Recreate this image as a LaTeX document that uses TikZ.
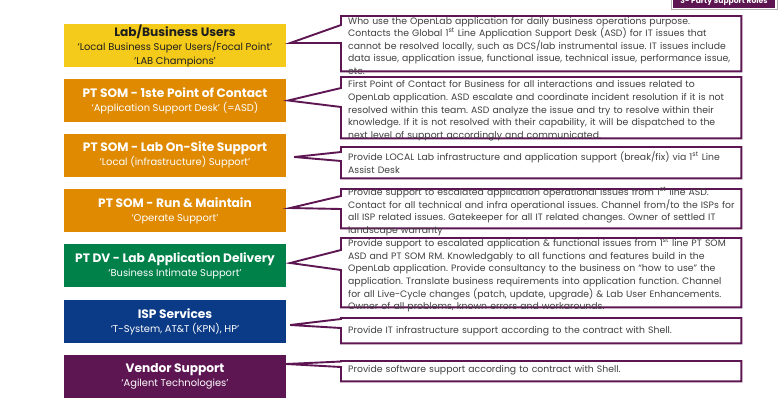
\documentclass[tikz,border=0pt]{standalone}
\usepackage{fontspec}
\setmainfont{Poppins}
\usetikzlibrary{calc}
\definecolor{labyellow}{HTML}{F5CB1B}
\definecolor{somorange}{HTML}{DF8A00}
\definecolor{dvgreen}{HTML}{00814A}
\definecolor{ispblue}{HTML}{0B3A86}
\definecolor{rolepurple}{HTML}{5E1653}
\definecolor{notegray}{HTML}{404040}
\definecolor{titledark}{HTML}{1E1E1E}
\newcommand\roletitle[1]{{\fontsize{12.2}{14}\bfseries\selectfont #1}}
\begin{document}
\frenchspacing
\begin{tikzpicture}[x=1pt,y=-1pt,
  role/.style={minimum width=222pt,minimum height=43pt,inner sep=0pt,align=center,
    text=white,font=\fontsize{9.9}{14}\selectfont},
  frame/.style={minimum width=400pt,inner sep=0pt,anchor=north west},
  note/.style={text width=396pt,align=left,inner sep=0pt,anchor=west,text=notegray,
    font=\fontsize{9.3}{12.6}\selectfont},
  callout/.style={draw=rolepurple,line width=1.9pt,fill=white,line join=miter},
  tab/.style={fill=rolepurple,text=white,minimum width=102pt,minimum height=12pt,
    inner sep=0pt,font=\fontsize{7.6}{9}\bfseries\selectfont}]
  \path[use as bounding box,clip] (0,0) rectangle (780,405);
  % roles on the left
  \node[role,fill=labyellow,text=titledark] (users) at (175,45.5)
    {\roletitle{Lab/Business Users}\\‘Local Business Super Users/Focal Point’\\‘LAB Champions’};
  \node[role,fill=somorange] (asd) at (175,100.5)
    {\roletitle{PT SOM - 1ste Point of Contact}\\‘Application Support Desk’ (=ASD)};
  \node[role,fill=somorange] (onsite) at (175,155)
    {\roletitle{PT SOM - Lab On-Site Support}\\‘Local (infrastructure) Support’};
  \node[role,fill=somorange] (runmaintain) at (175,210.5)
    {\roletitle{PT SOM - Run \& Maintain}\\‘Operate Support’};
  \node[role,fill=dvgreen] (delivery) at (175,265.5)
    {\roletitle{PT DV - Lab Application Delivery}\\‘Business Intimate Support’};
  \node[role,fill=ispblue] (isp) at (175,321.5)
    {\roletitle{ISP Services}\\‘T-System, AT\&T (KPN), HP’};
  \node[role,fill=rolepurple] (vendor) at (175,376)
    {\roletitle{Vendor Support}\\‘Agilent Technologies’};
  % frames of the callouts
  \node[frame,minimum height=55pt] (usersnote) at (341,16) {};
  \node[frame,minimum height=61pt] (asdnote) at (341,77) {};
  \node[frame,minimum height=31pt] (onsitenote) at (341,147) {};
  \node[frame,minimum height=39pt] (runmaintainnote) at (341,189) {};
  \node[frame,minimum height=69pt] (deliverynote) at (341,238) {};
  \node[frame,minimum height=25pt] (ispnote) at (341,318) {};
  \node[frame,minimum height=20pt] (vendornote) at (341,361) {};
  \foreach \f/\r/\a/\b/\t/\d in {usersnote/users/9/27/-2.5/4,asdnote/asd/11/30/0/2,
      onsitenote/onsite/5/14/2/8,runmaintainnote/runmaintain/7/20/-2.5/4,
      deliverynote/delivery/12/32/-2.5/4,ispnote/isp/1/10/3.5/4,vendornote/vendor/0.5/6/-12/0}
    \draw[callout] (\f.north west) -- (\f.north east) -- (\f.south east) -- (\f.south west)
      -- ($(\f.north west)+(0,\b)$) -- ($(\r.east)+(\d,\t)$) -- ($(\f.north west)+(0,\a)$) -- cycle;
  % texts of the callouts
  \node[note] at ($(usersnote.west)+(7,2)$) {Who use the OpenLab application for daily business operations purpose.\\
    Contacts the Global 1\textsuperscript{st} Line Application Support Desk (ASD) for IT issues that\\
    cannot be resolved locally, such as DCS/lab instrumental issue. IT issues include\\
    data issue, application issue, functional issue, technical issue, performance issue,\\
    etc.};
  \node[note] at ($(asdnote.west)+(7,3)$) {First Point of Contact for Business for all interactions and issues related to\\
    OpenLab application. ASD escalate and coordinate incident resolution if it is not\\
    resolved within this team. ASD analyze the issue and try to resolve within their\\
    knowledge. If it is not resolved with their capability, it will be dispatched to the\\
    next level of support accordingly and communicated.};
  \node[note] at ($(onsitenote.west)+(7,0)$) {Provide LOCAL Lab infrastructure and application support (break/fix) via 1\textsuperscript{st} Line\\
    Assist Desk};
  \node[note] at ($(runmaintainnote.west)+(7,3)$) {Provide support to escalated application operational issues from 1\textsuperscript{st} line ASD.\\
    Contact for all technical and infra operational issues. Channel from/to the ISPs for\\
    all ISP related issues. Gatekeeper for all IT related changes. Owner of settled IT\\
    landscape warranty};
  \node[note] at ($(deliverynote.west)+(7,2.5)$) {Provide support to escalated application \& functional issues from 1\textsuperscript{st} line PT SOM\\
    ASD and PT SOM RM. Knowledgably to all functions and features build in the\\
    OpenLab application. Provide consultancy to the business on “how to use” the\\
    application. Translate business requirements into application function. Channel\\
    for all Live-Cycle changes (patch, update, upgrade) \& Lab User Enhancements.\\
    Owner of all problems, known errors and workarounds.};
  \node[note] at ($(ispnote.west)+(7,0)$) {Provide IT infrastructure support according to the contract with Shell.};
  \node[note] at ($(vendornote.west)+(7,-1)$) {Provide software support according to contract with Shell.};
  % tab in the corner
  \node[tab] (tab) at (724,1.5) {3- Party Support Roles};
  \draw[gray!60,line width=.6pt] ($(tab.north west)+(-2,-2)$) rectangle ($(tab.south east)+(2,2)$);
\end{tikzpicture}
\end{document}
